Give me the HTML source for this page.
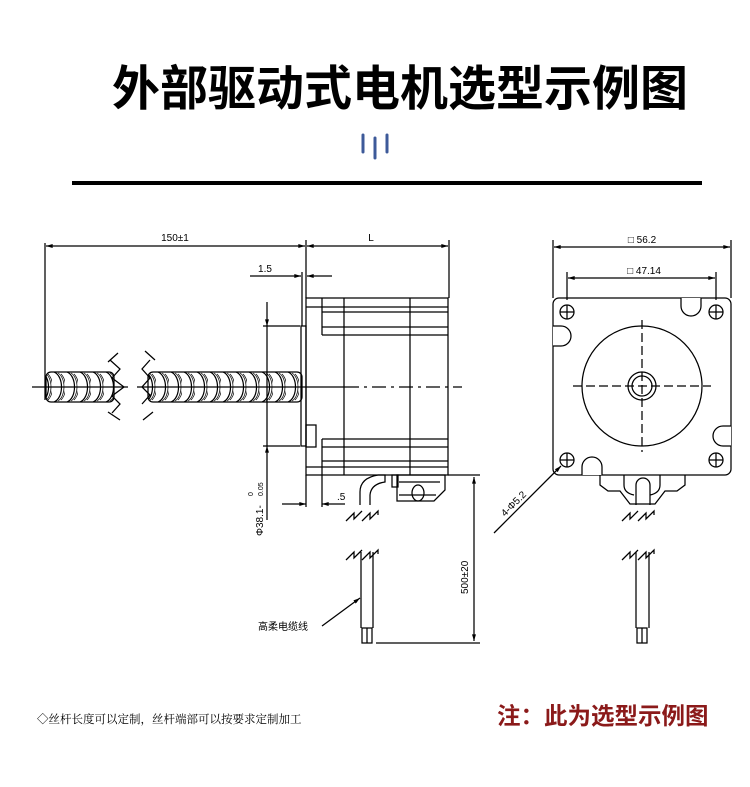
<!DOCTYPE html>
<html><head><meta charset="utf-8"><style>
body{margin:0;background:#fff;}
svg{display:block}
</style></head><body>
<svg width="750" height="787" viewBox="0 0 750 787" xmlns="http://www.w3.org/2000/svg" font-family="Liberation Sans, Noto Sans CJK SC, sans-serif">
<defs>
<marker id="ar" viewBox="0 0 10 6" refX="10" refY="3" markerWidth="10" markerHeight="4" orient="auto-start-reverse" markerUnits="userSpaceOnUse"><path d="M0,0L10,3L0,6z" fill="#000"/></marker>
<pattern id="thr" x="0" y="372" width="13" height="30" patternUnits="userSpaceOnUse">
<path d="M2,0 C12,4 12,26 2,30" fill="none" stroke="#000" stroke-width="1.2"/>
<path d="M6,1 C14,6 14,24 6,29" fill="none" stroke="#000" stroke-width="0.7"/>
<path d="M9,2 C15,8 15,22 9,28" fill="none" stroke="#000" stroke-width="0.7"/>
</pattern>
</defs>
<text x="400" y="105" text-anchor="middle" font-size="48" font-weight="bold" font-family="Noto Sans CJK SC, sans-serif" fill="#000">外部驱动式电机选型示例图</text>
<g stroke="#3d5a99" stroke-width="3" stroke-linecap="round"><line x1="363" y1="135" x2="363" y2="152"/><line x1="375" y1="138" x2="375" y2="158"/><line x1="387" y1="135" x2="387" y2="152"/></g>
<rect x="72" y="181" width="630" height="4" fill="#000"/>

<g stroke="#000" stroke-width="1.25" fill="none">
<line x1="45" y1="243" x2="45" y2="400"/>
<line x1="306" y1="240" x2="306" y2="298"/>
<line x1="449" y1="240" x2="449" y2="298"/>
<line x1="46" y1="246" x2="305" y2="246" marker-start="url(#ar)" marker-end="url(#ar)"/>
<line x1="307" y1="246" x2="448" y2="246" marker-start="url(#ar)" marker-end="url(#ar)"/>
<line x1="250" y1="276" x2="301" y2="276" marker-end="url(#ar)"/>
<line x1="332" y1="276" x2="307" y2="276" marker-end="url(#ar)"/>
<line x1="302" y1="272" x2="302" y2="326"/>
<rect x="301" y="326" width="5" height="120"/>
<rect x="306" y="298" width="142" height="177"/>
<rect x="306" y="425" width="10" height="22"/>
<line x1="306" y1="307" x2="448" y2="307"/><line x1="322" y1="312" x2="448" y2="312"/>
<line x1="322" y1="327" x2="448" y2="327"/><line x1="322" y1="335" x2="448" y2="335"/>
<line x1="322" y1="298" x2="322" y2="335"/>
<line x1="322" y1="439" x2="448" y2="439"/><line x1="322" y1="447" x2="448" y2="447"/>
<line x1="322" y1="461" x2="448" y2="461"/><line x1="306" y1="467" x2="448" y2="467"/>
<line x1="322" y1="439" x2="322" y2="475"/>
<line x1="344" y1="298" x2="344" y2="475"/><line x1="410" y1="298" x2="410" y2="475"/>
<line x1="32" y1="387" x2="128" y2="387"/><line x1="137" y1="387" x2="345" y2="387"/>
<line x1="345" y1="387" x2="462" y2="387" stroke-dasharray="14,5,3,5"/>
<line x1="263" y1="326" x2="300" y2="326"/><line x1="263" y1="446" x2="300" y2="446"/>
<line x1="267" y1="302" x2="267" y2="326" marker-end="url(#ar)"/>
<line x1="267" y1="326" x2="267" y2="446"/>
<line x1="267" y1="520" x2="267" y2="446" marker-end="url(#ar)"/>
<line x1="306" y1="475" x2="306" y2="507"/><line x1="322" y1="475" x2="322" y2="507"/>
<line x1="282" y1="504" x2="306" y2="504" marker-end="url(#ar)"/>
<line x1="345" y1="504" x2="322" y2="504" marker-end="url(#ar)"/>
<path d="M360,505 L360,492 Q360,478 378,475 L385,475 L385,482 Q371,484 370,495 L370,505"/>
<rect x="392" y="475" width="6" height="12"/>
<path d="M397,475 L445,475 L445,490 L434,501 L397,501 Z"/>
<line x1="399" y1="482" x2="440" y2="482"/><line x1="399" y1="495" x2="436" y2="495"/>
<ellipse cx="418" cy="493" rx="6" ry="8"/>
<path d="M346,521 l8,-8 l0,6 l8,-8 M362,521 l8,-8 l0,6 l8,-8 l0,4"/>
<path d="M346,560 l8,-8 l0,6 l8,-8 M362,560 l8,-8 l0,6 l8,-8 l0,4"/>
<line x1="361" y1="552" x2="361" y2="628"/><line x1="373" y1="552" x2="373" y2="628"/>
<rect x="362" y="628" width="10" height="15"/><line x1="367" y1="628" x2="367" y2="643"/>
<line x1="448" y1="475" x2="480" y2="475"/><line x1="376" y1="643" x2="480" y2="643"/>
<line x1="474" y1="477" x2="474" y2="641" marker-start="url(#ar)" marker-end="url(#ar)"/>
<line x1="322" y1="626" x2="360" y2="598" marker-end="url(#ar)"/>
<rect x="46" y="372" width="68" height="30" rx="5" fill="url(#thr)"/>
<rect x="148" y="372" width="154" height="30" rx="5" fill="url(#thr)"/>
<path d="M108,362 l10,-9 M110,360 l10,9 l-8,9 l12,9 l-12,9 l8,8 l-8,9 M120,420 l-12,-8"/>
<path d="M155,360 l-10,-9 M150,360 l-8,9 l8,9 l-8,9 l8,8 l-8,9 M153,412 l-10,8"/>

<line x1="553" y1="240" x2="553" y2="298"/><line x1="731" y1="240" x2="731" y2="298"/>
<line x1="567" y1="272" x2="567" y2="300"/><line x1="716" y1="272" x2="716" y2="300"/>
<line x1="554" y1="247" x2="730" y2="247" marker-start="url(#ar)" marker-end="url(#ar)"/>
<line x1="568" y1="278" x2="715" y2="278" marker-start="url(#ar)" marker-end="url(#ar)"/>
<rect x="553" y="298" width="178" height="177" rx="6"/>
<g><circle cx="567" cy="312" r="7"/><circle cx="716" cy="312" r="7"/><circle cx="567" cy="460" r="7"/><circle cx="716" cy="460" r="7"/>
<path d="M560,312h14M567,305v14M709,312h14M716,305v14M560,460h14M567,453v14M709,460h14M716,453v14"/></g>
<path d="M681,298 v8 a10,10 0 0 0 20,0 v-8" fill="#fff"/>
<path d="M553,326 h8 a10,10 0 0 1 0,20 h-8" fill="#fff"/>
<path d="M731,426 h-8 a10,10 0 0 0 0,20 h8" fill="#fff"/>
<path d="M582,475 v-8 a10,10 0 0 1 20,0 v8" fill="#fff"/>
<circle cx="642" cy="386" r="60"/>
<circle cx="642" cy="386" r="14"/><circle cx="642" cy="386" r="10"/>
<line x1="573" y1="386" x2="711" y2="386" stroke-dasharray="9,4"/>
<line x1="642" y1="320" x2="642" y2="452" stroke-dasharray="9,4"/>
<path d="M600,475 v10 l8,6 l12,0 l10,13 l25,0 l10,-13 l12,0 l8,-6 v-10"/>
<path d="M624,475 v10 q0,8 10,10 M660,475 v10 q0,8 -10,10"/>
<path d="M636,505 v-20 a7,7 0 0 1 14,0 v20"/>
<path d="M622,521 l8,-8 l0,6 l8,-8 M638,521 l8,-8 l0,6 l8,-8 l0,4"/>
<path d="M622,560 l8,-8 l0,6 l8,-8 M638,560 l8,-8 l0,6 l8,-8 l0,4"/>
<line x1="636" y1="552" x2="636" y2="628"/><line x1="649" y1="552" x2="649" y2="628"/>
<rect x="637" y="628" width="10" height="15"/><line x1="642" y1="628" x2="642" y2="643"/>
<line x1="494" y1="533" x2="561" y2="466" marker-end="url(#ar)"/>
</g>

<g font-size="10" fill="#000">
<text x="175" y="241" text-anchor="middle">150±1</text>
<text x="371" y="241" text-anchor="middle">L</text>
<text x="265" y="272" text-anchor="middle">1.5</text>
<text x="337" y="500">.5</text>
<text transform="translate(263,536) rotate(-90)">Φ38.1-</text>
<text transform="translate(253,496) rotate(-90)" font-size="7">0</text>
<text transform="translate(263,496) rotate(-90)" font-size="7">0.05</text>
<text transform="translate(468,594) rotate(-90)">500±20</text>
<text x="258" y="630" font-size="10" font-family="Noto Sans CJK SC, sans-serif">高柔电缆线</text>
<text x="642" y="243" text-anchor="middle">□ 56.2</text>
<text x="644" y="274" text-anchor="middle">□ 47.14</text>
<text transform="translate(505,517) rotate(-45)">4-Φ5.2</text>
</g>
<text x="37" y="723" font-size="11.5" font-family="Noto Serif CJK SC, serif" fill="#000">◇丝杆长度可以定制，丝杆端部可以按要求定制加工</text>
<text x="497" y="724" font-size="23.5" font-weight="bold" font-family="Noto Sans CJK SC, sans-serif" fill="#8b1a1a">注：此为选型示例图</text>
</svg>
</body></html>
